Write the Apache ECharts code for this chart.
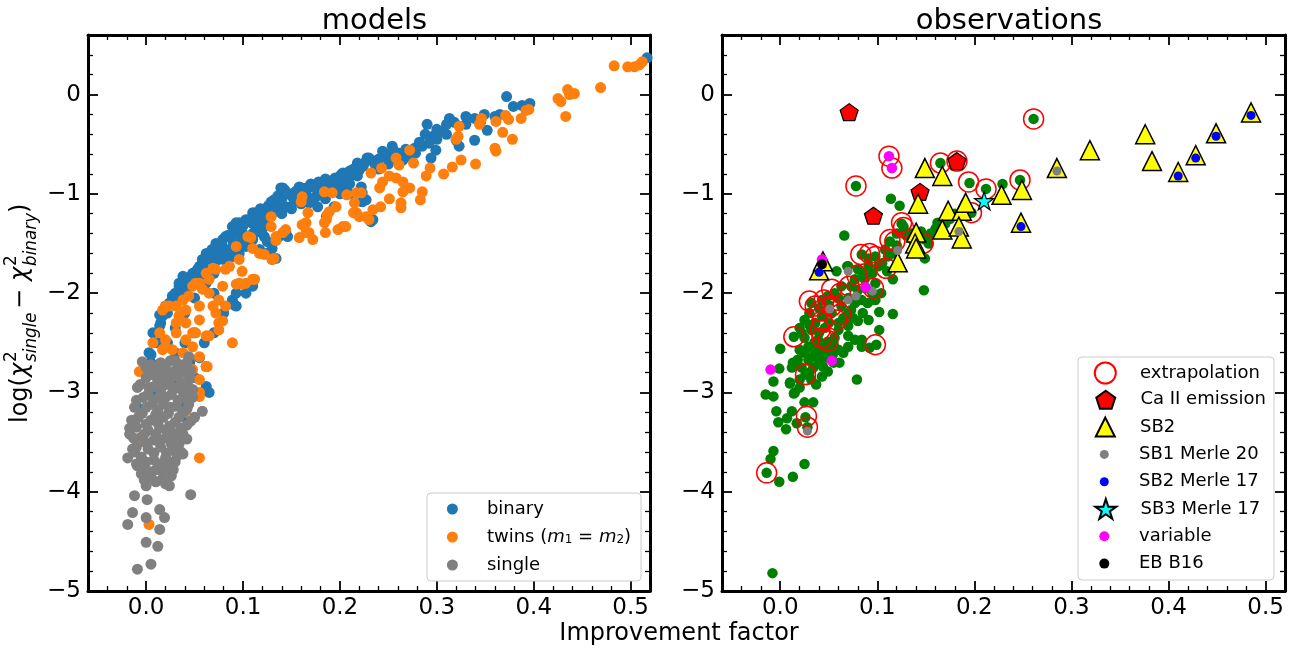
<!DOCTYPE html>
<html>
<head>
<meta charset="UTF-8">
<title>models / observations</title>
<style>
  html, body { margin: 0; padding: 0; background: #fff; }
  #main { width: 1301px; height: 650px; }
</style>
<script src="https://cdn.jsdelivr.net/npm/echarts@6/dist/echarts.min.js"></script>
</head>
<body>
<div id="main"></div>
<script>
// axis ranges and ticks (same for both panels)
var xMin = -0.06, xMax = 0.52, yMin = -5, yMax = 0.6;
var xMajor = [0, 0.1, 0.2, 0.3, 0.4, 0.5];
var xMinor = [-0.04, -0.02, 0.02, 0.04, 0.06, 0.08, 0.12, 0.14, 0.16, 0.18, 0.22, 0.24, 0.26, 0.28,
              0.32, 0.34, 0.36, 0.38, 0.42, 0.44, 0.46, 0.48];
var yMajor = [-5, -4, -3, -2, -1, 0];
var yMinor = [-4.8, -4.6, -4.4, -4.2, -3.8, -3.6, -3.4, -3.2, -2.8, -2.6, -2.4, -2.2, -1.8, -1.6,
              -1.4, -1.2, -0.8, -0.6, -0.4, -0.2, 0.2, 0.4];

// ---- models panel: [improvement factor, log(chi2_single - chi2_binary)]
var binary = [
  [0.517,0.37],[0.372,-0.02],[0.379,-0.12],[0.388,-0.11],[0.396,-0.09],[0.365,-0.20],[0.349,-0.20],
  [0.339,-0.24],[0.352,-0.36],[0.339,-0.46],[0.323,-0.52],[0.320,-0.46],[0.313,-0.24],[0.305,-0.37],
  [0.290,-0.30],[0.296,-0.42],[0.292,-0.49],[0.299,-0.56],[0.294,-0.64],[0.278,-0.59],[0.285,-0.52],
  [0.277,-0.54],[0.254,-0.52],[0.244,-0.57],[0.246,-0.62],[0.261,-0.59],[0.265,-0.66],[0.228,-0.64],
  [0.232,-0.66],[0.218,-0.69],[0.220,-0.76],[0.210,-0.77],[0.201,-0.81],[0.211,-0.82],[0.218,-0.82],
  [0.222,-0.93],[0.206,-0.93],[0.223,-1.08],[0.189,-0.88],[0.184,-0.93],[0.173,-0.93],[0.160,-0.94],
  [0.161,-0.99],[0.175,-1.03],[0.168,-1.09],[0.177,-1.13],[0.139,-0.94],[0.143,-0.96],[0.151,-1.03],
  [0.153,-1.06],[0.149,-1.13],[0.137,-1.09],[0.134,-1.13],[0.130,-1.16],[0.124,-1.16],[0.117,-1.19],
  [0.120,-1.26],[0.117,-1.33],[0.122,-1.43],[0.125,-1.48],[0.130,-1.55],[0.134,-1.65],[0.232,-1.28],
  [0.146,-1.43],[0.186,-1.23],[0.194,-1.13],[0.230,-0.64],[0.225,-0.69],[0.217,-0.76],[0.203,-0.79],
  [0.201,-0.89],[0.192,-0.89],[0.186,-0.96],[0.179,-0.93],[0.172,-0.93],[0.158,-0.93],[0.141,-0.94],
  [0.129,-1.08],[0.110,-1.19],[0.103,-1.26],[0.096,-1.29],[0.089,-1.33],[0.086,-1.43],[0.079,-1.46],
  [0.082,-1.56],[0.072,-1.60],[0.062,-1.60],[0.058,-1.66],[0.055,-1.73],[0.051,-1.80],[0.046,-1.83],
  [0.038,-1.83],[0.034,-1.93],[0.027,-2.03],[0.024,-2.10],[0.017,-2.20],[0.014,-2.22],[0.144,-1.13],
  [0.155,-1.03],[0.124,-1.26],[0.113,-1.39],[0.110,-1.46],[0.103,-1.53],[0.117,-1.56],[0.096,-1.60],
  [0.089,-1.63],[0.075,-1.66],[0.067,-1.80],[0.062,-1.86],[0.137,-1.43],[0.144,-1.39],[0.130,-1.66],
  [0.124,-1.60],[0.227,-1.06],[0.234,-1.26],[0.223,-0.99],[0.113,-1.19],[0.093,-1.29],[0.082,-1.43],
  [0.072,-1.50],[0.058,-1.80],[0.034,-1.90],[0.020,-2.13],[0.017,-2.23],[0.014,-2.33],[0.007,-2.40],
  [0.003,-2.60],[0.005,-2.70],[0.062,-2.94],[0.065,-3.00],[0.062,-2.74],[0.089,-2.07],[0.093,-2.13],
  [0.103,-2.00],[0.110,-1.93],[0.093,-2.00],[0.005,-2.62],[0.055,-2.65],[0.091,-2.12],[0.043,-3.29],
  [-0.009,-3.15],[0.040,-2.00],[0.050,-1.90],[0.060,-1.75],[0.070,-1.70],[0.080,-1.60],[0.090,-1.50],
  [0.100,-1.40],[0.110,-1.30],[0.120,-1.20],[0.130,-1.20],[0.140,-1.05],[0.150,-1.00],[0.165,-0.98],
  [0.180,-1.00],[0.195,-0.95],[0.210,-0.90],[0.240,-0.75],[0.250,-0.70],[0.270,-0.62],[0.300,-0.45],
  [0.310,-0.40],[0.330,-0.30],[0.345,-0.28],[0.360,-0.22],[0.100,-1.50],[0.070,-2.00],[0.080,-2.20],
  [0.050,-2.40],[0.040,-2.50],[0.030,-2.60],[0.045,-2.70],[0.050,-2.85],[0.030,-2.90],[0.040,-3.10],
  [0.010,-3.00],[0.060,-2.50],[0.070,-2.40],
  [0.015,-2.30],[0.022,-2.20],[0.028,-2.10],[0.030,-2.00],[0.036,-2.05],[0.042,-1.95],[0.044,-1.88],
  [0.048,-1.80],[0.053,-1.76],[0.060,-1.68],[0.064,-1.62],[0.068,-1.56],[0.074,-1.52],[0.078,-1.50],
  [0.084,-1.42],[0.090,-1.40],[0.095,-1.35],[0.100,-1.32],[0.104,-1.28],[0.108,-1.25],[0.114,-1.24],
  [0.118,-1.15],[0.126,-1.12],[0.132,-1.06],[0.136,-1.02],[0.146,-1.00],[0.155,-0.97],[0.165,-0.94],
  [0.170,-0.90],[0.178,-0.88],[0.185,-0.85],[0.195,-0.84],[0.205,-0.84],[0.214,-0.75],[0.224,-0.72],
  [0.236,-0.70],[0.240,-0.65],[0.250,-0.60],[0.256,-0.57],[0.268,-0.55],[0.282,-0.48],[0.288,-0.40],
  [0.300,-0.35],[0.310,-0.30],[0.318,-0.28],[0.330,-0.22],[0.098,-1.45],[0.090,-1.56],[0.080,-1.66],
  [0.070,-1.80],[0.062,-1.90],[0.050,-2.05],[0.040,-2.20],[0.030,-2.35],[0.022,-2.50],[0.012,-2.50],
  [0.140,-1.20],[0.150,-1.15],[0.160,-1.10],[0.170,-1.05],[0.185,-1.05],[0.200,-1.00],[0.210,-1.00],
  [0.120,-1.35],[0.110,-1.40]
];
var twins = [
  [0.483,0.29],[0.497,0.28],[0.504,0.28],[0.509,0.30],[0.512,0.33],[0.469,0.07],[0.425,-0.04],
  [0.428,-0.07],[0.435,0.05],[0.442,0.01],[0.437,0.00],[0.433,-0.22],[0.395,-0.15],[0.392,-0.16],
  [0.387,-0.24],[0.378,-0.45],[0.374,-0.25],[0.371,-0.21],[0.361,-0.27],[0.368,-0.38],[0.360,-0.54],
  [0.361,-0.57],[0.346,-0.24],[0.344,-0.30],[0.323,-0.32],[0.322,-0.42],[0.320,-0.45],[0.340,-0.70],
  [0.325,-0.66],[0.316,-0.73],[0.307,-0.80],[0.293,-0.74],[0.289,-0.82],[0.285,-0.98],[0.283,-1.06],
  [0.263,-1.09],[0.263,-1.14],[0.265,-0.98],[0.272,-0.94],[0.276,-0.69],[0.272,-0.56],[0.258,-0.64],
  [0.261,-0.71],[0.243,-0.74],[0.232,-0.79],[0.251,-0.82],[0.244,-0.88],[0.241,-0.94],[0.258,-0.84],
  [0.265,-0.88],[0.251,-1.05],[0.242,-1.13],[0.234,-1.16],[0.230,-1.26],[0.222,-0.99],[0.217,-0.99],
  [0.215,-1.09],[0.217,-1.19],[0.214,-1.19],[0.220,-1.23],[0.207,-1.01],[0.192,-0.99],[0.184,-0.98],
  [0.196,-1.13],[0.189,-1.18],[0.186,-1.26],[0.184,-1.29],[0.203,-1.33],[0.198,-1.36],[0.185,-1.39],
  [0.172,-1.46],[0.165,-1.39],[0.158,-1.44],[0.161,-1.03],[0.160,-1.08],[0.167,-1.19],[0.161,-1.31],
  [0.144,-1.36],[0.141,-1.39],[0.134,-1.47],[0.129,-1.23],[0.129,-1.33],[0.122,-1.61],[0.132,-1.65],
  [0.227,-1.23],[0.206,-1.33],[0.187,-1.21],[0.165,-1.29],[0.168,-1.39],[0.108,-1.44],[0.110,-1.55],
  [0.093,-1.53],[0.096,-1.66],[0.086,-1.73],[0.082,-1.76],[0.069,-1.75],[0.062,-1.80],[0.055,-1.90],
  [0.048,-1.93],[0.044,-2.03],[0.038,-2.07],[0.031,-2.13],[0.020,-2.13],[0.017,-2.17],[0.093,-1.91],
  [0.099,-1.91],[0.110,-1.86],[0.130,-1.66],[0.134,-1.43],[0.105,-1.43],[0.117,-1.60],[0.099,-1.78],
  [0.072,-1.76],[0.096,-1.90],[0.103,-1.90],[0.112,-1.86],[0.065,-1.86],[0.058,-1.96],[0.051,-1.90],
  [0.065,-2.00],[0.075,-2.07],[0.082,-2.13],[0.079,-1.93],[0.069,-2.13],[0.055,-2.13],[0.041,-2.17],
  [0.034,-2.23],[0.031,-2.30],[0.041,-2.30],[0.055,-2.27],[0.072,-2.20],[0.075,-2.30],[0.065,-2.43],
  [0.051,-2.40],[0.041,-2.47],[0.031,-2.40],[0.020,-2.47],[0.014,-2.40],[0.007,-2.50],[0.017,-2.57],
  [0.027,-2.57],[0.038,-2.60],[0.048,-2.54],[0.055,-2.64],[0.062,-2.74],[0.075,-2.37],[0.089,-2.50],
  [-0.007,-2.79],[0.003,-2.77],[0.048,-2.77],[0.055,-2.87],[0.055,-3.00],[0.020,-2.54],[0.063,-2.74],
  [0.055,-3.04],[0.055,-3.66],[0.003,-4.33],[0.079,-2.28],[0.062,-2.43],[0.048,-2.40],[0.034,-2.23],
  [0.024,-2.13],[-0.009,-3.51],[0.040,-3.20]
];
var single = [
  [-0.004,-2.69],[0.044,-2.64],[-0.009,-2.95],[0.058,-3.19],[-0.017,-3.36],[-0.017,-3.42],[-0.014,-3.57],
  [-0.019,-3.66],[-0.009,-3.74],[0.000,-3.94],[0.024,-3.94],[0.046,-4.03],[-0.012,-4.04],[0.001,-4.08],
  [-0.014,-4.21],[0.014,-4.18],[0.019,-4.26],[0.000,-4.26],[-0.019,-4.33],[0.014,-4.38],[0.000,-4.51],
  [0.012,-4.55],[-0.009,-4.78],[0.005,-4.73],
  [0.005,-2.72],[0.015,-2.70],[0.025,-2.68],[0.035,-2.72],[0.040,-2.80],[0.030,-2.78],[0.020,-2.80],
  [0.010,-2.78],[0.000,-2.85],[0.012,-2.88],[0.025,-2.86],[0.036,-2.90],[0.045,-2.85],[0.003,-2.95],
  [0.015,-2.98],[0.028,-2.95],[0.040,-3.00],[0.048,-2.97],[-0.003,-3.05],[0.008,-3.08],[0.020,-3.05],
  [0.033,-3.08],[0.044,-3.12],[0.000,-3.15],[0.012,-3.18],[0.025,-3.15],[0.038,-3.20],[0.050,-3.25],
  [-0.008,-3.25],[0.005,-3.28],[0.018,-3.25],[0.030,-3.30],[0.042,-3.33],[-0.010,-3.35],[0.002,-3.38],
  [0.014,-3.36],[0.026,-3.40],[0.038,-3.42],[-0.005,-3.45],[0.008,-3.48],[0.020,-3.46],[0.032,-3.50],
  [-0.010,-3.55],[0.002,-3.57],[0.015,-3.55],[0.027,-3.58],[0.036,-3.60],[-0.005,-3.65],[0.008,-3.68],
  [0.020,-3.66],[0.030,-3.70],[-0.002,-3.75],[0.010,-3.78],[0.022,-3.76],[0.005,-3.85],[0.016,-3.88],
  [0.026,-3.84],[-0.005,-3.82],[0.046,-2.78],[0.048,-3.05],[0.034,-3.52],[0.038,-3.62],[-0.012,-3.15],
  [-0.015,-3.28],
  [0.000,-2.75],[0.020,-2.74],[0.030,-2.68],[0.042,-2.70],[0.006,-2.82],[0.018,-2.84],[0.032,-2.83],
  [-0.006,-2.92],[0.008,-2.94],[0.021,-2.92],[0.034,-2.96],[0.043,-2.93],[-0.010,-3.08],[0.002,-3.02],
  [0.014,-3.04],[0.026,-3.02],[0.038,-3.05],[0.006,-3.12],[0.018,-3.12],[0.031,-3.14],[0.042,-3.17],
  [-0.004,-3.21],[0.010,-3.22],[0.023,-3.21],[0.034,-3.25],[0.046,-3.29],[-0.012,-3.30],[0.000,-3.32],
  [0.012,-3.31],[0.024,-3.34],[0.036,-3.36],[-0.013,-3.46],[-0.002,-3.42],[0.010,-3.42],[0.022,-3.40],
  [0.030,-3.44],[0.042,-3.47],[0.000,-3.51],[0.014,-3.50],[0.026,-3.52],[-0.012,-3.60],[0.008,-3.61],
  [0.021,-3.61],[0.032,-3.64],[0.000,-3.70],[0.014,-3.72],[0.025,-3.70],[-0.010,-3.72],[0.004,-3.80],
  [0.017,-3.80],[0.028,-3.78],[0.010,-3.90],[0.020,-3.92],[-0.002,-3.88]
];

// ---- observations panel
var allStars = [
  [0.261,-0.245],[0.247,-0.86],[0.229,-0.90],[0.212,-0.95],[0.195,-0.89],[0.197,-1.19],[0.165,-0.69],
  [0.078,-0.92],[0.114,-1.05],[0.123,-1.12],[0.066,-1.42],[0.148,-1.97],[0.127,-1.33],[0.128,-1.38],
  [0.162,-1.29],[0.149,-1.46],[0.153,-1.50],[0.149,-1.65],[0.113,-1.48],[0.108,-1.56],[0.111,-1.63],
  [0.098,-1.63],[0.091,-1.65],[0.084,-1.61],[0.110,-1.78],[0.116,-1.86],[0.101,-1.73],[0.091,-1.73],
  [0.080,-1.76],[0.070,-1.73],[0.058,-1.78],[0.077,-1.86],[0.087,-1.86],[0.098,-1.90],[0.104,-2.00],
  [0.098,-2.07],[0.084,-2.07],[0.073,-1.93],[0.063,-1.93],[0.056,-2.00],[0.049,-2.03],[0.043,-2.07],
  [0.032,-2.10],[0.063,-2.13],[0.073,-2.17],[0.053,-2.20],[0.043,-2.23],[0.025,-2.27],[0.036,-2.30],
  [0.060,-2.30],[0.070,-2.33],[0.102,-2.19],[0.116,-2.21],[0.091,-2.27],[0.080,-2.28],[0.102,-2.37],
  [0.022,-2.40],[0.032,-2.37],[0.046,-2.35],[0.060,-2.37],[0.070,-2.43],[0.077,-2.47],[0.084,-2.47],
  [0.070,-2.54],[0.060,-2.57],[0.049,-2.57],[0.039,-2.57],[0.029,-2.54],[0.020,-2.57],[0.018,-2.67],
  [0.029,-2.67],[0.039,-2.67],[0.049,-2.65],[0.061,-2.70],[0.013,-2.70],[0.012,-2.75],[0.022,-2.75],
  [0.034,-2.75],[0.044,-2.74],[0.049,-2.79],[0.043,-2.84],[0.032,-2.87],[0.037,-2.92],[0.020,-2.87],
  [0.010,-2.90],[0.015,-3.00],[0.084,-2.54],[0.092,-2.55],[0.099,-2.52],[0.079,-2.87],[0.014,-2.44],
  [0.000,-2.56],[-0.001,-2.76],[-0.007,-2.89],[0.026,-2.82],[-0.015,-3.02],[-0.007,-3.04],[0.014,-3.01],
  [0.010,-2.91],[-0.004,-3.19],[-0.002,-3.30],[0.006,-3.37],[0.007,-3.26],[0.012,-3.19],[0.017,-3.31],
  [0.025,-3.10],[0.034,-3.10],[0.026,-3.25],[0.028,-3.35],[-0.007,-3.59],[-0.010,-3.67],[-0.014,-3.81],
  [-0.001,-3.90],[0.013,-3.85],[0.025,-3.72],[-0.008,-4.82],[0.030,-2.20],[0.039,-2.47],[0.049,-2.49],
  [0.056,-2.45],[0.065,-2.60],[0.054,-2.62],[0.044,-2.55],[0.125,-1.30],[0.130,-1.42],[0.137,-1.47],
  [0.120,-1.40],[0.070,-2.20],[0.077,-2.10],[0.096,-2.07],[0.069,-1.73],
  [0.040,-2.40],[0.035,-2.50],[0.025,-2.45],[0.050,-2.30],[0.055,-2.52],[0.045,-2.62],[0.035,-2.62],
  [0.025,-2.60],[0.030,-2.80],[0.040,-2.70],[0.055,-2.70],[0.020,-2.95],[0.065,-2.25],[0.075,-2.25],
  [0.085,-2.20],[0.090,-2.10],[0.095,-2.00],[0.088,-1.95],[0.080,-1.97],[0.070,-2.05],[0.060,-2.05],
  [0.050,-2.12],[0.040,-2.15],[0.030,-2.32],[0.020,-2.35],[0.105,-1.70],[0.095,-1.80],[0.085,-1.80],
  [0.115,-1.60],[0.120,-1.52],[0.135,-1.40],[0.145,-1.38],[0.155,-1.40],[0.160,-1.35],[0.170,-1.30],
  [0.175,-1.25],[0.180,-1.20]
];
var extrapolation = [
  [0.112,-0.62],[0.115,-0.74],[0.078,-0.92],[0.182,-0.67],[0.165,-0.69],[0.261,-0.245],[0.247,-0.86],
  [0.212,-0.95],[0.194,-0.88],[0.197,-1.19],[0.125,-1.29],[0.127,-1.34],[0.113,-1.46],[0.118,-1.48],
  [0.147,-1.50],[0.083,-1.61],[0.092,-1.60],[0.098,-1.63],[0.109,-1.75],[0.079,-1.82],[0.071,-1.93],
  [0.062,-2.00],[0.053,-1.96],[0.045,-2.07],[0.036,-2.13],[0.030,-2.08],[0.053,-2.13],[0.062,-2.21],
  [0.096,-1.95],[0.041,-2.18],[0.058,-2.27],[0.043,-2.28],[0.041,-2.37],[0.049,-2.48],[0.043,-2.45],
  [0.014,-2.44],[0.098,-2.52],[0.026,-2.82],[0.027,-3.24],[0.028,-3.35],[-0.014,-3.81]
];
var caEmission = [[0.071,-0.177],[0.144,-0.98],[0.096,-1.22],[0.182,-0.67]];
var sb2 = [
  [0.149,-0.74],[0.167,-0.82],[0.142,-1.10],[0.173,-1.17],[0.187,-1.17],[0.191,-1.09],[0.167,-1.36],
  [0.184,-1.33],[0.187,-1.45],[0.140,-1.39],[0.139,-1.50],[0.140,-1.55],[0.121,-1.69],[0.040,-1.77],
  [0.044,-1.68],[0.285,-0.74],[0.319,-0.56],[0.376,-0.40],[0.383,-0.67],[0.410,-0.78],[0.428,-0.61],
  [0.449,-0.39],[0.485,-0.18],[0.248,-1.29],[0.249,-0.96],[0.228,-1.01]
];
var sb1Merle20 = [[0.285,-0.77],[0.184,-1.38],[0.121,-1.57],[0.070,-1.78],[0.095,-1.98],[0.078,-2.03],
                  [0.070,-2.07],[0.051,-2.16],[0.028,-3.39]];
var sb2Merle17 = [[0.040,-1.79],[0.248,-1.33],[0.410,-0.82],[0.428,-0.64],[0.449,-0.42],[0.485,-0.21]];
var sb3Merle17 = [[0.210,-1.07]];
var variable = [[0.112,-0.62],[0.115,-0.74],[0.043,-1.66],[0.088,-1.94],[0.053,-2.68],[-0.010,-2.77]];
var ebB16 = [[0.043,-1.71]];

var FONT = 'DejaVu Sans';
var PENTAGON = 'path://M50,0 L97.55,34.55 L79.39,90.45 L20.61,90.45 L2.45,34.55 Z';
var STAR = 'path://M50,0 L61.23,34.55 L97.55,34.55 L68.17,55.9 L79.39,90.45 L50,69.1 L20.61,90.45 L31.83,55.9 L2.45,34.55 L38.77,34.55 Z';
var TRIANGLE = 'path://M50,0 L100,100 L0,100 Z';

function fmtX(v) { return v.toFixed(1); }
function fmtY(v) { return v < 0 ? '\u2212' + (-v) : '' + v; }

// 4 axes per side: labelled major, minor, mirrored major, mirrored minor
function axisSet(dim, g) {
  var lo = dim === 'x' ? xMin : yMin, hi = dim === 'x' ? xMax : yMax;
  var major = dim === 'x' ? xMajor : yMajor, minor = dim === 'x' ? xMinor : yMinor;
  var near = dim === 'x' ? 'bottom' : 'left', far = dim === 'x' ? 'top' : 'right';
  function one(pos, ticks, len, w, line, label) {
    return {
      type: 'value', gridIndex: g, position: pos, min: lo, max: hi,
      splitLine: {show: false},
      axisLine: {show: line, onZero: false, lineStyle: {color: '#000', width: 3}},
      axisTick: {show: true, inside: true, length: len, customValues: ticks,
                 lineStyle: {color: '#000', width: w}},
      axisLabel: label ? {show: true, customValues: major, margin: dim === 'x' ? 6 : 7,
                          fontSize: 23, color: '#000', fontFamily: FONT,
                          formatter: dim === 'x' ? fmtX : fmtY} : {show: false}
    };
  }
  return [one(near, major, 10, 1.8, true, true), one(near, minor, 5, 1.3, false, false),
          one(far, major, 10, 1.8, true, false), one(far, minor, 5, 1.3, false, false)];
}

function scatter(name, data, g, symbol, size, itemStyle) {
  itemStyle.opacity = 1;
  return {
    name: name, type: 'scatter', data: data, xAxisIndex: g * 4, yAxisIndex: g * 4,
    symbol: symbol, symbolSize: size, itemStyle: itemStyle, emphasis: {disabled: true}
  };
}

var series = [
  scatter('binary', binary, 0, 'circle', 11, {color: '#1f77b4'}),
  scatter('twins', twins, 0, 'circle', 11, {color: '#ff7f0e'}),
  scatter('single', single, 0, 'circle', 11, {color: '#808080'}),
  scatter('all', allStars, 1, 'circle', 10.5, {color: '#008000'}),
  scatter('extrapolation', extrapolation, 1, 'circle', 20,
          {color: 'rgba(0,0,0,0)', borderColor: '#ff0000', borderWidth: 1.5}),
  scatter('Ca II emission', caEmission, 1, PENTAGON, [18, 17],
          {color: '#ff0000', borderColor: '#000', borderWidth: 1.2}),
  scatter('SB2', sb2, 1, TRIANGLE, 19, {color: '#ffff00', borderColor: '#000', borderWidth: 1.5}),
  scatter('SB1 Merle 20', sb1Merle20, 1, 'circle', 9, {color: '#808080'}),
  scatter('SB2 Merle 17', sb2Merle17, 1, 'circle', 9, {color: '#0000ff'}),
  scatter('SB3 Merle 17', sb3Merle17, 1, STAR, [19, 18],
          {color: '#00ffff', borderColor: '#000', borderWidth: 1.2}),
  scatter('variable', variable, 1, 'circle', 10.5, {color: '#ff00ff'}),
  scatter('EB B16', ebB16, 1, 'circle', 10, {color: '#000'})
];

// legends are placed by their icon's own box, so left = icon centre - icon width / 2
var obsRows = [['extrapolation', 21], ['Ca II emission', 18], ['SB2', 19], ['SB1 Merle 20', 9],
               ['SB2 Merle 17', 9], ['SB3 Merle 17', 20], ['variable', 10], ['EB B16', 10]];
var legends = [{
  data: ['binary', 'twins', 'single'], orient: 'vertical', left: 452.4 - 5.5, top: 500,
  itemWidth: 59, itemHeight: 11, itemGap: 10, padding: 0, selectedMode: false,
  formatter: function (n) {
    return n === 'twins' ? '{n|twins (}{i|m}{s|1}{n| = }{i|m}{s|2}{n|)}' : n;
  },
  textStyle: {
    fontSize: 18, lineHeight: 18, color: '#000', fontFamily: FONT,
    rich: {
      n: {fontSize: 18, lineHeight: 18, fontFamily: FONT, color: '#000'},
      i: {fontSize: 18, lineHeight: 18, fontFamily: FONT, fontStyle: 'italic', color: '#000'},
      s: {fontSize: 12, lineHeight: 8, verticalAlign: 'bottom', fontFamily: FONT, color: '#000'}
    }
  }
}];
obsRows.forEach(function (r, i) {
  legends.push({
    data: [r[0]], left: 1104.3 - r[1] / 2, top: 372.5 + i * 27.3 - 11,
    itemWidth: 59.4, itemHeight: r[1], padding: 0, selectedMode: false,
    textStyle: {fontSize: 18, lineHeight: 22, color: '#000', fontFamily: FONT}
  });
});

var chart = echarts.init(document.getElementById('main'), null, {renderer: 'canvas'});
chart.setOption({
  animation: false,
  backgroundColor: '#fff',
  textStyle: {fontFamily: FONT},
  title: [
    {text: 'models', left: 369.5, top: 2, textAlign: 'center',
     textStyle: {fontSize: 29, fontWeight: 'normal', color: '#000', fontFamily: FONT}},
    {text: 'observations', left: 1004, top: 2, textAlign: 'center',
     textStyle: {fontSize: 29, fontWeight: 'normal', color: '#000', fontFamily: FONT}},
    {text: 'Improvement factor', left: 674, top: 617, textAlign: 'center',
     textStyle: {fontSize: 24, fontWeight: 'normal', color: '#000', fontFamily: FONT}}
  ],
  grid: [
    {left: 88, top: 35, width: 562, height: 556},
    {left: 722, top: 35, width: 563, height: 556}
  ],
  xAxis: axisSet('x', 0).concat(axisSet('x', 1)),
  yAxis: axisSet('y', 0).concat(axisSet('y', 1)),
  legend: legends,
  series: series,
  graphic: [
    {type: 'rect', z: 3, shape: {x: 427, y: 493, width: 214, height: 88, r: 4},
     style: {fill: 'rgba(255,255,255,0.8)', stroke: '#cccccc', lineWidth: 1}},
    {type: 'rect', z: 3, shape: {x: 1078, y: 357, width: 196, height: 223, r: 4},
     style: {fill: 'rgba(255,255,255,0.8)', stroke: '#cccccc', lineWidth: 1}},
    {type: 'group', x: 29, y: 423, rotation: Math.PI / 2, children: [
      {type: 'text', x: 0, y: -8, style: {text: 'log(', fontSize: 24, fontFamily: FONT, fill: '#000', verticalAlign: 'middle'}},
      {type: 'text', x: 46, y: -8, style: {text: '\u03c7', fontSize: 24, fontStyle: 'italic', fontFamily: FONT, fill: '#000', verticalAlign: 'middle'}},
      {type: 'text', x: 61, y: -17, style: {text: '2', fontSize: 16.8, fontFamily: FONT, fill: '#000', verticalAlign: 'middle'}},
      {type: 'text', x: 61, y: 3, style: {text: 'single', fontSize: 16.8, fontStyle: 'italic', fontFamily: FONT, fill: '#000', verticalAlign: 'middle'}},
      {type: 'text', x: 114, y: -8, style: {text: '\u2212', fontSize: 24, fontFamily: FONT, fill: '#000', verticalAlign: 'middle'}},
      {type: 'text', x: 142, y: -8, style: {text: '\u03c7', fontSize: 24, fontStyle: 'italic', fontFamily: FONT, fill: '#000', verticalAlign: 'middle'}},
      {type: 'text', x: 157, y: -17, style: {text: '2', fontSize: 16.8, fontFamily: FONT, fill: '#000', verticalAlign: 'middle'}},
      {type: 'text', x: 157, y: 3, style: {text: 'binary', fontSize: 16.8, fontStyle: 'italic', fontFamily: FONT, fill: '#000', verticalAlign: 'middle'}},
      {type: 'text', x: 210, y: -8, style: {text: ')', fontSize: 24, fontFamily: FONT, fill: '#000', verticalAlign: 'middle'}}
    ]}
  ]
});
</script>
</body>
</html>
